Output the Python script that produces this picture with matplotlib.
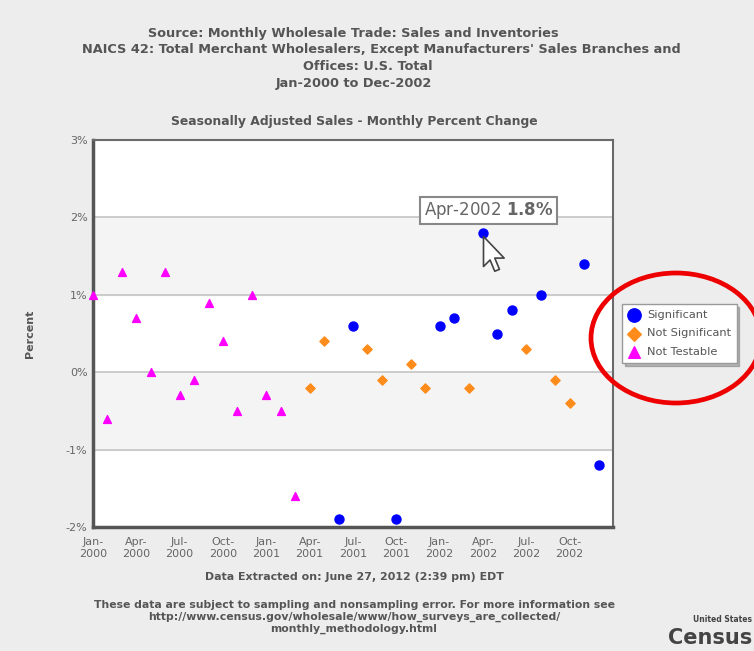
import numpy as np
import matplotlib.pyplot as plt
from matplotlib.path import Path
from matplotlib.patches import Ellipse

# monthly percent change, Jan-2000 .. Dec-2002
months = [m + '-' + y for y in ['2000', '2001', '2002']
          for m in ['Jan', 'Feb', 'Mar', 'Apr', 'May', 'Jun',
                    'Jul', 'Aug', 'Sep', 'Oct', 'Nov', 'Dec']]
values = [1.0, -0.6, 1.3, 0.7, 0.0, 1.3, -0.3, -0.1, 0.9, 0.4, -0.5, 1.0,
          -0.3, -0.5, -1.6, -0.2, 0.4, -1.9, 0.6, 0.3, -0.1, -1.9, 0.1, -0.2,
          0.6, 0.7, -0.2, 1.8, 0.5, 0.8, 0.3, 1.0, -0.1, -0.4, 1.4, -1.2]
status = ['NT'] * 15 + ['NS', 'NS', 'S', 'S', 'NS', 'NS', 'S', 'NS', 'NS',
                        'S', 'S', 'NS', 'S', 'S', 'S', 'NS', 'S', 'NS', 'NS', 'S', 'S']
ytick_vals = [-2, -1, 0, 1, 2, 3]
xtick_pos = list(range(0, 36, 3))
xtick_labels = [months[i].replace('-', '-\n') for i in xtick_pos]
tip_idx = 27

txt = '#555555'
fig = plt.figure(figsize=(7.54, 6.51), dpi=100)
fig.patch.set_facecolor('#ededed')

ax = fig.add_axes([93/754, 1-527/651, 520/754, 387/651])
ax.set_xlim(0, 36)
ax.set_ylim(-2, 3)
ax.set_facecolor('white')
for lo in [-1, 1]:
    ax.axhspan(lo, lo + 1, color='#f4f4f4', zorder=0)
for v in ytick_vals:
    ax.axhline(v, color='#c4c4c4', lw=1.2, zorder=1)

for s in ['top', 'right']:
    ax.spines[s].set_color('#6a6a6a')
    ax.spines[s].set_linewidth(1.5)
for s in ['left', 'bottom']:
    ax.spines[s].set_color('#555555')
    ax.spines[s].set_linewidth(2.5)

x = np.arange(len(values))
vals = np.array(values)
st = np.array(status)
styles = {'S': ('Significant', 'o', '#0000ff', 42),
          'NS': ('Not Significant', 'D', '#ff8c1a', 22),
          'NT': ('Not Testable', '^', '#ff00ff', 32)}
handles = []
for key in ['S', 'NS', 'NT']:
    lab, mk, col, sz = styles[key]
    m = st == key
    ax.scatter(x[m], vals[m], marker=mk, s=sz, color=col, zorder=3, clip_on=False)
    handles.append(ax.scatter([], [], marker=mk, s=sz * 2.2, color=col, label=lab))

ax.set_yticks(ytick_vals)
ax.set_yticklabels([f'{v}%' for v in ytick_vals])
ax.set_xticks(xtick_pos)
ax.set_xticklabels(xtick_labels, linespacing=1.25)
ax.tick_params(axis='y', length=0, labelsize=8, labelcolor='#666666', pad=4)
ax.tick_params(axis='x', length=0, labelsize=8, labelcolor='#666666', pad=7)
ax.set_ylabel('Percent', fontsize=8, fontweight='bold', color=txt, labelpad=22)

# tooltip and cursor
ax.annotate('Apr-2002 $\\mathbf{1.8\\%}$', (tip_idx, values[tip_idx]),
            xytext=(4, 16), textcoords='offset points', ha='center', va='center',
            fontsize=12, color='#666666', zorder=6,
            bbox=dict(boxstyle='square,pad=0.2', fc='white', ec='#888888', lw=1.5))
cur = Path([(0, 0), (0, -16), (3.5, -12.5), (6, -18.5), (8.5, -17.5),
            (6, -11.5), (11, -11.5), (0, 0)],
           [Path.MOVETO] + [Path.LINETO] * 6 + [Path.CLOSEPOLY])
ax.plot([tip_idx], [values[tip_idx] - 0.04], marker=cur, ms=50, mfc='white',
        mec='#444444', mew=1.2, zorder=7, clip_on=False)

leg = ax.legend(handles=handles, loc='center left', bbox_to_anchor=(1.006, 0.5),
                frameon=True, fancybox=False, shadow={'alpha': 0.35}, fontsize=8.2,
                labelspacing=0.75, handletextpad=0.6, borderpad=0.5,
                handlelength=1.1)
leg.get_frame().set_edgecolor('#999999')
for t in leg.get_texts():
    t.set_color(txt)

fig.patches.append(Ellipse((676/754, 1-338/651), 170/754, 130/651,
                           transform=fig.transFigure, fill=False,
                           ec='#ee0000', lw=3.4, zorder=10))

# titles and notes
title_lines = ['Source: Monthly Wholesale Trade: Sales and Inventories',
               "NAICS 42: Total Merchant Wholesalers, Except Manufacturers' Sales Branches and",
               'Offices: U.S. Total',
               'Jan-2000 to Dec-2002']
title_cx = [353, 381, 368, 354]
for i, line in enumerate(title_lines):
    fig.text(title_cx[i]/754, 1-(33 + 17*i)/651, line, ha='center', va='center',
             fontsize=9.3, fontweight='bold', color=txt)
fig.text(354/754, 1-122/651, 'Seasonally Adjusted Sales - Monthly Percent Change',
         ha='center', va='center', fontsize=8.9, fontweight='bold', color=txt)
fig.text(354/754, 1-577/651, 'Data Extracted on: June 27, 2012 (2:39 pm) EDT',
         ha='center', va='center', fontsize=7.9, fontweight='bold', color=txt)
fig.text(354/754, 1-617/651,
         'These data are subject to sampling and nonsampling error. For more information see\n'
         'http://www.census.gov/wholesale/www/how_surveys_are_collected/\n'
         'monthly_methodology.html',
         ha='center', va='center', fontsize=7.8, fontweight='bold', color=txt,
         linespacing=1.2)

# census logo
fig.text(752/754, 1-620/651, 'United States', fontsize=5.5, fontweight='bold',
         color='#444444', va='center', ha='right')
fig.text(752/754, 1-638/651, 'Census', fontsize=15, fontweight='bold',
         color='#444444', va='center', ha='right')

fig.savefig('out.png', dpi=100, facecolor=fig.get_facecolor())
